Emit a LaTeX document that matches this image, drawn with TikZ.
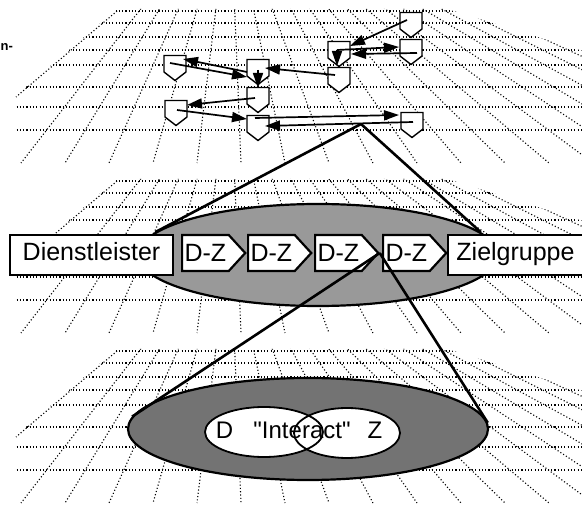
\documentclass[tikz,border=0pt]{standalone}
\usepackage{fontspec}
\setmainfont{Liberation Sans}[Ligatures=TeXOff]
\usetikzlibrary{arrows.meta,shapes.geometric,shapes.symbols,calc}
\begin{document}
\begin{tikzpicture}[x=1pt,y=-1pt,
  griddot/.style={line width=1.1pt, dash pattern=on 1.1pt off 2.2pt, black},
  shield/.style={minimum width=25pt, minimum height=28pt, inner sep=0pt, outer sep=0pt,
    path picture={\draw[line width=1.4pt, fill=white]
      ([shift={(1.5,1.5)}]path picture bounding box.north west) --
      ([shift={(-1.5,1.5)}]path picture bounding box.north east) --
      ([shift={(-1.5,4)}]path picture bounding box.east) --
      ([shift={(0,-1.5)}]path picture bounding box.south) --
      ([shift={(1.5,4)}]path picture bounding box.west) -- cycle;}},
  flow/.style={line width=1.7pt, -{Triangle[length=15pt,width=10pt]}},
  bigbox/.style={draw, line width=2.2pt, fill=white, minimum height=40pt, inner sep=0pt,
    font=\fontsize{25}{30}\selectfont, text height=18pt, text depth=6pt},
  dzbox/.style={signal, signal to=east, signal from=nowhere, signal pointer angle=95,
    draw, line width=2.2pt, fill=white, minimum height=36pt, inner xsep=2.5pt, inner ysep=0pt,
    font=\fontsize{25}{30}\selectfont, text height=18pt, text depth=0pt},
  bigell/.style={ellipse, draw, line width=2.2pt, minimum width=360pt, minimum height=102pt, inner sep=0pt},
  inell/.style={ellipse, fill=white, minimum height=50pt, inner sep=0pt},
  cone/.style={line width=2.6pt},
  lbl/.style={inner sep=0pt, font=\fontsize{24}{28}\selectfont, text height=17pt, text depth=0pt}]
\useasboundingbox (0,0) rectangle (582,505);

% perspective grids
\foreach \o in {0,170,340}{
  \begin{scope}[shift={(0,\o)}]
    \begin{scope}
      \clip (117,9) -- (447,9) -- (583,51) -- (583,164) -- (14,164) -- (14,97) -- cycle;
      \foreach \r in {11,23,37,50,65,87,107,130}
        \draw[griddot] (0,\r) -- (582,\r);
      \foreach \k in {-3,...,22}
        \draw[griddot] (230,-106) -- ({153+44*\k},163);
    \end{scope}
    \draw[griddot] (117,11) -- (16,97);
  \end{scope}}

% fragment of text at left edge
\node[anchor=base west, font=\fontsize{13}{16}\selectfont\bfseries, inner sep=0pt] (frag) at (0.5,51) {n-};

% top plane network
\node[shield] (s1) at (175,68) {};
\node[shield] (s2) at (258,72) {};
\node[shield] (s3) at (258,100) {};
\node[shield] (s4) at (176,113) {};
\node[shield] (s5) at (258,128) {};
\node[shield] (s6) at (411,25) {};
\node[shield] (s7) at (339,54) {};
\node[shield] (s8) at (411,52) {};
\node[shield] (s9) at (339,80) {};
\node[shield] (s10) at (412,125) {};

\draw[flow] ([shift={(-11,0)}]s2.center) -- ([shift={(8,-9)}]s1.center);
\draw[flow] ([shift={(-5,-5)}]s1.center) -- ([shift={(-11,5)}]s2.center);
\draw[flow] ([shift={(-4,-5)}]s9.center) -- ([shift={(7,-4)}]s2.center);
\draw[flow] ([shift={(0,-2)}]s2.center) -- ([shift={(0,-12)}]s3.center);
\draw[flow] ([shift={(-3,-2)}]s3.center) -- ([shift={(11,-8)}]s4.center);
\draw[flow] ([shift={(1,-3)}]s4.center) -- ([shift={(-11,-9)}]s5.center);
\draw[flow] ([shift={(-3,-10)}]s5.center) -- ([shift={(-13,-10)}]s10.center);
\draw[flow] ([shift={(1,-3)}]s10.center) -- ([shift={(7,-2)}]s5.center);
\draw[flow] ([shift={(-4,-5)}]s6.center) -- ([shift={(11,-8)}]s7.center);
\draw[flow] ([shift={(-2,-4)}]s7.center) -- ([shift={(-12,-5)}]s8.center);
\draw[flow] ([shift={(6,1)}]s8.center) -- ([shift={(12,0)}]s7.center);
\draw[flow] ([shift={(-2,-4)}]s7.center) -- ([shift={(-2,-14)}]s9.center);

\coordinate (apex1) at (361,124);

% middle plane
\node[bigell, fill=black!40] (ell1) at (318,255) {};
\node[bigbox, minimum width=163pt] (dienst) at (91.5,255) {Dienstleister};
\node[dzbox, anchor=west] (dz1) at (181,253) {D-Z};
\node[dzbox, anchor=west] (dz2) at (247,253) {D-Z};
\node[dzbox, anchor=west] (dz3) at (314,253) {D-Z};
\node[dzbox, anchor=west] (dz4) at (382,253) {D-Z};
\node[bigbox, minimum width=135pt] (ziel) at (515.5,255) {Zielgruppe};

\draw[cone] (apex1) -- (ell1.172);
\draw[cone] (apex1) -- (ell1.8);

% bottom plane
\node[bigell, fill=black!55] (ell2) at (308,429) {};
\draw[cone] (dz3.east) -- (ell2.176);
\draw[cone] (dz3.east) -- (ell2.2);

\node[inell, minimum width=118pt] (ed) at (264,432) {};
\node[inell, minimum width=106pt] (ez) at (347,433) {};
\draw[line width=1.8pt] (ed.center) ellipse [x radius=59, y radius=25];
\draw[line width=1.8pt] (ez.center) ellipse [x radius=53, y radius=25];
\node[lbl] (td) at (224.5,430) {D};
\node[lbl] (ti) at (302,430) {"Interact"};
\node[lbl] (tz) at (375,430) {Z};
\end{tikzpicture}
\end{document}
